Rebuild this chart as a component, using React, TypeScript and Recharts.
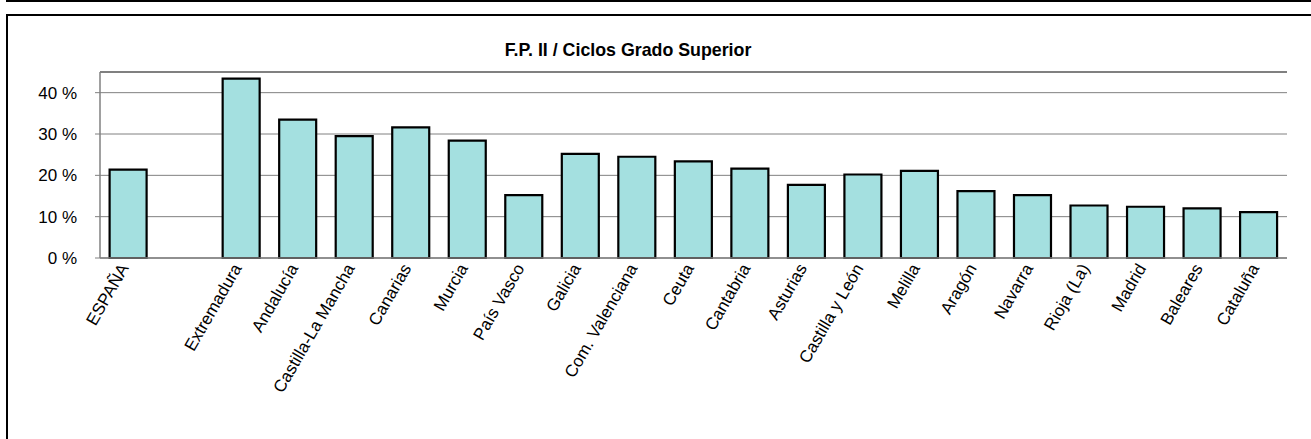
import { Bar, BarChart, CartesianGrid, ReferenceLine, XAxis, YAxis } from "recharts";

const categories: string[] = [
  "ESPAÑA",
  "",
  "Extremadura",
  "Andalucía",
  "Castilla-La Mancha",
  "Canarias",
  "Murcia",
  "País Vasco",
  "Galicia",
  "Com. Valenciana",
  "Ceuta",
  "Cantabria",
  "Asturias",
  "Castilla y León",
  "Melilla",
  "Aragón",
  "Navarra",
  "Rioja (La)",
  "Madrid",
  "Baleares",
  "Cataluña",
];

const values: (number | null)[] = [
  21.4, null, 43.4, 33.5, 29.5, 31.6, 28.4, 15.2, 25.2, 24.5, 23.4, 21.6, 17.7, 20.2, 21.1, 16.2, 15.2, 12.7, 12.4, 12.0, 11.1,
];

const yTicks: number[] = [0, 10, 20, 30, 40];
const yMax = 45;

const title = "F.P. II / Ciclos Grado Superior";

const data = categories.map((name, i) => ({ name, value: values[i] }));

const FONT = '"Liberation Sans", Arial, Helvetica, sans-serif';
const GRAY = "#808080";

function CategoryTick({ x, y, payload }: { x: number; y: number; payload: { value: string } }) {
  const tx = x + 1;
  const ty = y + 10;
  return (
    <text
      x={tx}
      y={ty}
      transform={`rotate(-60, ${tx}, ${ty})`}
      textAnchor="end"
      fontSize={17}
      fontFamily={FONT}
      fill="#000"
    >
      {payload.value}
    </text>
  );
}

export default function App() {
  return (
    <div style={{ position: "absolute", left: 0, top: 0, width: 1311, height: 439, background: "#fff", overflow: "hidden" }}>
      {/* frame lines */}
      <div style={{ position: "absolute", left: 6, top: 0, width: 1305, height: 2, background: "#000" }} />
      <div
        style={{
          position: "absolute",
          left: 6,
          top: 14,
          width: 1320,
          height: 440,
          borderLeft: "2px solid #000",
          borderTop: "2px solid #000",
        }}
      />
      <div
        style={{
          position: "absolute",
          left: 0,
          width: 1256,
          top: 40,
          textAlign: "center",
          fontFamily: FONT,
          fontWeight: "bold",
          fontSize: 17.8,
          lineHeight: "20px",
        }}
      >
        {title}
      </div>
      <div style={{ position: "absolute", left: 0, top: 0 }}>
        <BarChart
          width={1311}
          height={439}
          data={data}
          margin={{ top: 72, right: 24, left: 0, bottom: 11 }}
          barCategoryGap="17%"
        >
          <CartesianGrid horizontal vertical={false} stroke={GRAY} strokeWidth={1} />
          <XAxis
            dataKey="name"
            interval={0}
            height={170}
            tickLine={false}
            tickSize={0}
            tickMargin={0}
            axisLine={{ stroke: GRAY, strokeWidth: 1.5 }}
            tick={CategoryTick as any}
          />
          <YAxis
            width={100}
            domain={[0, yMax]}
            ticks={yTicks}
            tickFormatter={(v: number) => `${v} %`}
            tickSize={5}
            tickMargin={18}
            tickLine={{ stroke: GRAY }}
            axisLine={{ stroke: GRAY, strokeWidth: 1.5 }}
            tick={{ fontSize: 17, fontFamily: FONT, fill: "#000" }}
          />
          <YAxis
            yAxisId="right"
            orientation="right"
            width={0}
            domain={[0, yMax]}
            tick={false}
            tickLine={false}
            axisLine={{ stroke: GRAY, strokeWidth: 2 }}
          />
          <ReferenceLine y={yMax} stroke={GRAY} strokeWidth={2} />
          <Bar dataKey="value" fill="#A4E0E0" stroke="#000" strokeWidth={2.2} isAnimationActive={false} />
        </BarChart>
      </div>
    </div>
  );
}
